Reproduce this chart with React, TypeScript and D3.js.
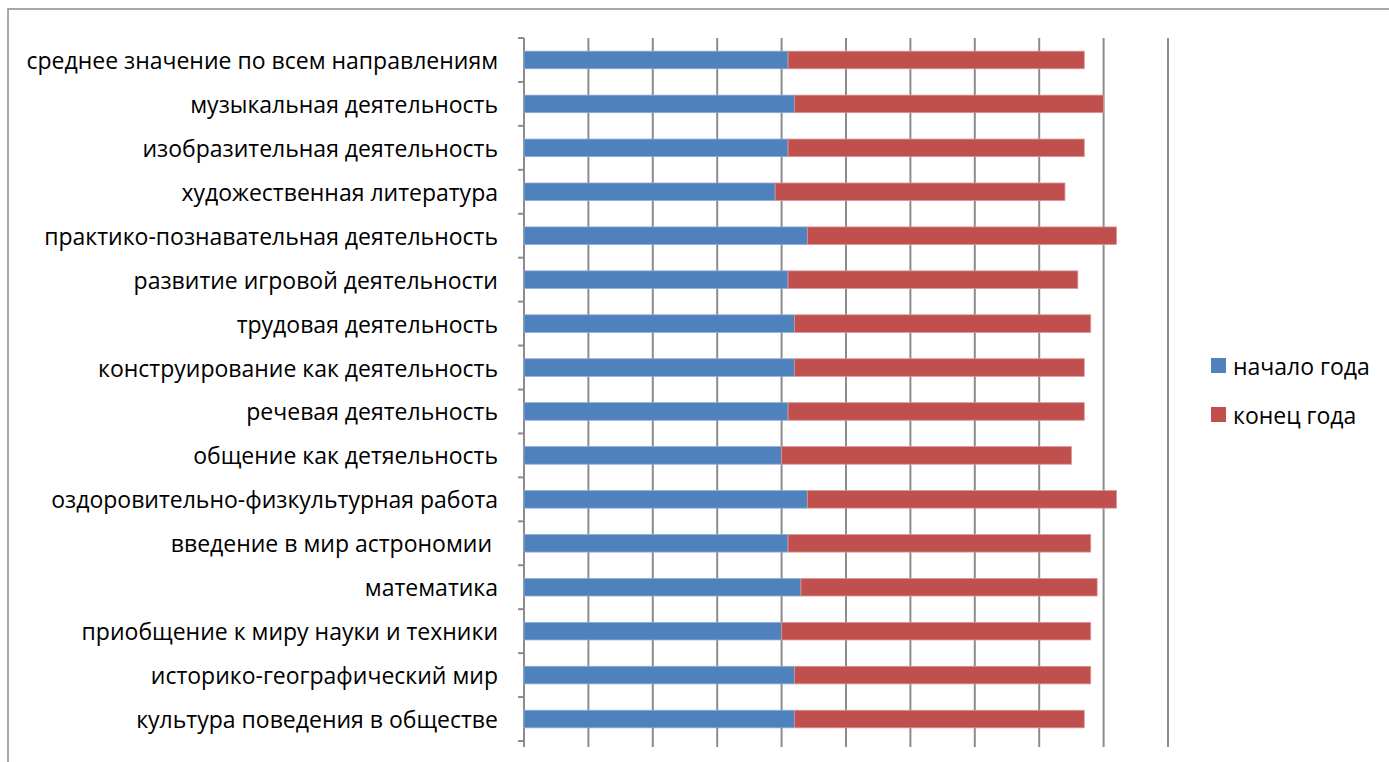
import React from "react";
import * as d3 from "d3";

const categories = [
  "среднее значение по всем направлениям",
  "музыкальная деятельность",
  "изобразительная деятельность",
  "художественная литература",
  "практико-познавательная деятельность",
  "развитие игровой деятельности",
  "трудовая деятельность",
  "конструирование как деятельность",
  "речевая деятельность",
  "общение как детяельность",
  "оздоровительно-физкультурная работа",
  "введение в мир астрономии ",
  "математика",
  "приобщение к миру науки и техники",
  "историко-географический мир",
  "культура поведения в обществе",
];

const startValues = [2.05, 2.1, 2.05, 1.95, 2.2, 2.05, 2.1, 2.1, 2.05, 2.0, 2.2, 2.05, 2.15, 2.0, 2.1, 2.1];
const endValues = [2.3, 2.4, 2.3, 2.25, 2.4, 2.25, 2.3, 2.25, 2.3, 2.25, 2.4, 2.35, 2.3, 2.4, 2.3, 2.25];

const seriesNames = ["начало года", "конец года"];
const seriesColors = ["#4F81BD", "#C0504D"];
const seriesStroke = ["#8EAADB", "#D99694"];

const xTicks = d3.range(0, 5.01, 0.5);

export default function App() {
  const W = 1389;
  const H = 762;
  const left = 524;
  const right = 1168;
  const top = 38;
  const bottom = 741;
  const font = "'Open Sans', sans-serif";

  const x = d3.scaleLinear().domain([0, 5]).range([left, right]);
  const y = d3.scaleBand<string>().domain(categories).range([top, bottom]).paddingInner(0.6).paddingOuter(0.3);
  const yOuter = d3.scaleBand<string>().domain(categories).range([top, bottom]);

  const data = categories.map((c, i) => ({ c, a: startValues[i], b: endValues[i] }));
  const stack = d3.stack<any>().keys(["a", "b"])(data as any);

  return (
    <svg width={W} height={H} style={{ position: "absolute", left: 0, top: 0, background: "#fff" }}>
      <rect x={8} y={9} width={W} height={H} fill="none" stroke="#8c8c8c" strokeWidth={1.5} />
      {xTicks.map((t, i) => (
        <g key={i}>
          <line x1={x(t)} x2={x(t)} y1={top} y2={bottom + 6} stroke="#8c8c8c" strokeWidth={2} />
        </g>
      ))}
      <line x1={left} x2={left} y1={top} y2={bottom} stroke="#8c8c8c" strokeWidth={2} />
      {d3.range(categories.length + 1).map((i) => {
        const yy = top + i * yOuter.step();
        return <line key={i} x1={left - 6} x2={left} y1={yy} y2={yy} stroke="#8c8c8c" strokeWidth={2} />;
      })}
      {stack.map((s, si) =>
        s.map((d: any, i: number) => (
          <rect
            key={si + "-" + i}
            x={x(d[0])}
            y={y(categories[i])}
            width={x(d[1]) - x(d[0])}
            height={y.bandwidth()}
            fill={seriesColors[si]}
            stroke={seriesStroke[si]}
            strokeWidth={0.8}
          />
        ))
      )}
      {categories.map((c, i) => (
        <text
          key={i}
          x={498}
          y={(y(c) as number) + y.bandwidth() / 2}
          textAnchor="end"
          dominantBaseline="central"
          fontFamily={font}
          fontSize={23}
          fill="#000"
          style={{ whiteSpace: "pre" }}
        >
          {c}
        </text>
      ))}
      {seriesNames.map((n, i) => (
        <g key={i} transform={`translate(1211, ${358 + i * 49})`}>
          <rect width={15} height={15} fill={seriesColors[i]} />
          <text x={22} y={8} dominantBaseline="central" fontFamily={font} fontSize={23} fill="#000">
            {n}
          </text>
        </g>
      ))}
    </svg>
  );
}
